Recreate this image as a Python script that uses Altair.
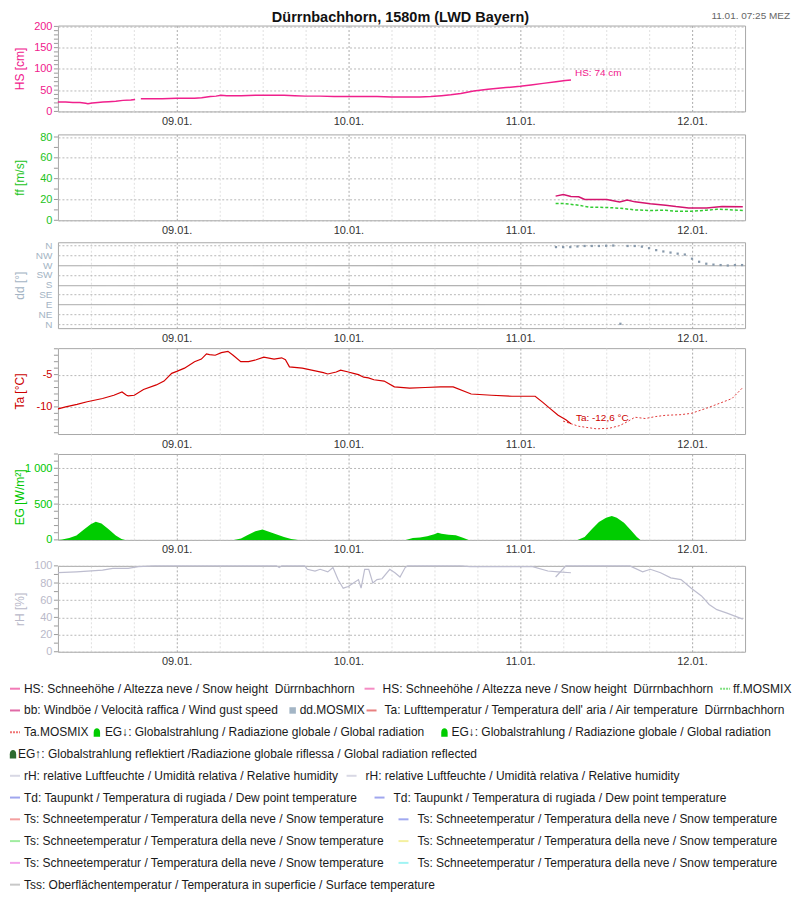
import altair as alt
import pandas as pd

# ---------------------------------------------------------------- data
BASE = pd.Timestamp("2025-01-08 00:00:00")   # hours below are counted from 08.01. 00:00

# Snow height HS [cm] (two measured segments)
hs_hours = [7.4, 8.5, 9.5, 10.5, 11.3, 11.6, 12.2, 13.0, 13.7, 14.5, 15.5, 16.5, 17.6, 18.2,
            19.0, 20.5, 22.0, 24.0, 25.5, 26.5, 27.5, 28.7, 29.5, 30.2, 31.0, 33.0, 35.0, 37.0,
            39.0, 40.5, 42.0, 44.0, 46.0, 48.0, 50.0, 52.0, 54.0, 56.0, 58.0, 59.5, 61.0, 62.3,
            63.7, 65.5, 67.5, 70.0, 72.0, 73.5, 75.2, 77.0, 78.3, 79.1]
hs_values = [22, 22, 21, 21, 19, 18, 20, 21, 22, 23, 24, 26, 27, 28,
             30, 30, 30, 31, 31, 31, 32, 35, 36, 38, 37, 37, 38, 38,
             38, 37, 36, 36, 35, 35, 35, 35, 34, 34, 34, 35, 37, 39,
             42, 48, 52, 56, 59, 62, 66, 70, 73, 74]
hs_segment = [1] * 14 + [2] * 38

# Wind gust bb and ff.MOSMIX [m/s]
bb_hours = [76.95, 78.02, 79.09, 80.17, 81.02, 84.1, 85.89, 86.96, 88.03, 90.18, 92.32, 93.76,
            95.54, 98.05, 100.2, 103.1]
bb_values = [23.2, 24.8, 22.9, 22.6, 20.0, 20.0, 17.7, 19.4, 17.7, 15.8, 14.5, 13.2,
             11.9, 11.9, 13.2, 12.9]
ffm_hours = [76.95, 78.02, 80.17, 81.6, 84.1, 85.89, 88.03, 90.18, 92.32, 93.76, 95.9, 98.05,
             99.48, 100.9, 103.1]
ffm_values = [16.1, 16.1, 14.5, 12.6, 12.3, 11.6, 10.0, 9.4, 9.7, 8.7, 8.7, 9.7,
              10.6, 10.3, 9.4]

# Wind direction dd.MOSMIX [deg]
dd_hours = list(range(77, 104))
dd_values = [352, 352, 352, 355, 357, 357, 357, 358, 359, 2, 357, 357, 354, 347, 338, 332,
             327, 322, 318, 299, 285, 276, 272, 270, 268, 270, 270]

# Air temperature Ta [°C] measured and Ta.MOSMIX
ta_hours = [7.43, 8.5, 10.08, 11.5, 13.65, 15.23, 16.37, 17.0, 17.23, 18.09, 19.37, 21.16, 22.24,
            23.31, 24.02, 25.1, 26.5, 27.46, 28.17, 28.6, 29.39, 30.25, 31.17, 31.89, 32.96,
            34.04, 35.11, 36.18, 37.61, 38.68, 39.2, 39.76, 41.55, 43.69, 44.5, 45.12, 46.3,
            46.91, 48.0, 48.7, 49.4, 50.13, 50.8, 51.56, 52.99, 54.42, 56.56, 58.71, 60.86,
            62.64, 65.15, 68.0, 70.87, 74.09, 75.16, 76.23, 77.3, 78.38, 79.09]
ta_values = [-10.3, -10.0, -9.6, -9.2, -8.7, -8.2, -7.7, -8.2, -8.3, -8.2, -7.3, -6.6, -6.0,
             -4.8, -4.5, -4.0, -3.0, -2.6, -1.8, -1.9, -2.0, -1.6, -1.4, -2.0, -3.0,
             -3.0, -2.7, -2.3, -2.6, -2.4, -2.7, -3.8, -4.0, -4.5, -4.7, -4.9, -4.6,
             -4.3, -4.6, -4.8, -5.0, -5.4, -5.5, -5.8, -6.0, -6.9, -7.1, -7.0, -6.9,
             -6.9, -8.0, -8.2, -8.35, -8.35, -9.3, -10.3, -11.3, -12.0, -12.6]
tam_hours = [78.0, 80.17, 82.67, 84.46, 85.89, 86.96, 88.03, 89.46, 90.9, 92.32, 94.47, 95.9,
             98.05, 100.2, 101.6, 103.1]
tam_values = [-12.2, -13.0, -13.4, -13.3, -12.9, -12.3, -11.6, -11.8, -11.5, -11.3, -11.2, -11.0,
              -10.2, -9.3, -8.7, -7.0]

# Global radiation EG [W/m²]
eg_hours = [7.4, 8.0, 9.0, 10.0, 11.0, 12.0, 12.7, 13.5, 14.5, 15.5, 16.3, 16.8,
            32.0, 33.0, 34.0, 35.0, 36.0, 37.0, 38.0, 39.0, 40.0, 41.0,
            56.0, 57.0, 58.0, 59.0, 60.0, 60.5, 61.0, 62.0, 63.0, 64.0, 64.8,
            80.0, 81.0, 82.0, 83.0, 84.0, 84.8, 85.5, 86.5, 87.5, 88.3, 88.8, 103.1]
eg_values = [0, 5, 25, 60, 140, 220, 255, 230, 150, 60, 12, 0,
             0, 20, 70, 120, 145, 110, 75, 40, 12, 0,
             0, 25, 35, 50, 80, 100, 85, 70, 65, 30, 0,
             0, 40, 150, 250, 310, 335, 310, 240, 130, 40, 0, 0]

# Relative humidity rH [%] measured and forecast
rh_hours = [7.43, 10.0, 13.65, 15.08, 17.23, 18.66, 20.8, 37.97, 38.33, 38.68, 41.9, 42.26,
            43.33, 44.05, 45.12, 45.84, 46.55, 47.27, 47.98, 48.7, 49.41, 49.77, 50.27, 50.84,
            51.41, 51.99, 52.7, 53.78, 54.5, 55.21, 55.93, 56.29, 63.72, 65.0, 73.73, 75.87,
            77.3, 79.09]
rh_values = [92, 93, 95, 97, 97, 99, 100, 100, 98, 100, 100, 96,
             94, 96, 93, 98, 84, 74, 76, 80, 84, 74, 96, 96,
             80, 84, 85, 96, 92, 87, 98, 100, 100, 99, 99, 94,
             93, 92]
rhm_hours = [76.95, 78.38, 87.32, 89.11, 90.18, 91.61, 93.04, 94.47, 95.9, 97.33, 98.4, 99.48,
             100.9, 103.1]
rhm_values = [87, 100, 100, 93, 96, 92, 86, 84, 74, 65, 55, 49, 45, 38]

# Legend
leg_labels = [
    "HS: Schneehöhe / Altezza neve / Snow height\u00a0 Dürrnbachhorn",
    "HS: Schneehöhe / Altezza neve / Snow height\u00a0 Dürrnbachhorn",
    "ff.MOSMIX",
    "bb: Windböe / Velocità raffica / Wind gust speed",
    "dd.MOSMIX",
    "Ta: Lufttemperatur / Temperatura dell' aria / Air temperature\u00a0 Dürrnbachhorn",
    "Ta.MOSMIX",
    "EG↓: Globalstrahlung / Radiazione globale / Global radiation",
    "EG↓: Globalstrahlung / Radiazione globale / Global radiation",
    "EG↑: Globalstrahlung reflektiert /Radiazione globale riflessa / Global radiation reflected",
    "rH: relative Luftfeuchte / Umidità relativa / Relative humidity",
    "rH: relative Luftfeuchte / Umidità relativa / Relative humidity",
    "Td: Taupunkt / Temperatura di rugiada / Dew point temperature",
    "Td: Taupunkt / Temperatura di rugiada / Dew point temperature",
    "Ts: Schneetemperatur / Temperatura della neve / Snow temperature",
    "Ts: Schneetemperatur / Temperatura della neve / Snow temperature",
    "Ts: Schneetemperatur / Temperatura della neve / Snow temperature",
    "Ts: Schneetemperatur / Temperatura della neve / Snow temperature",
    "Ts: Schneetemperatur / Temperatura della neve / Snow temperature",
    "Ts: Schneetemperatur / Temperatura della neve / Snow temperature",
    "Tss: Oberflächentemperatur / Temperatura in superficie / Surface temperature",
]
leg_colors = ["#f27ab6", "#f58cc4", "#7ee07e", "#e06aa6", "#a3b5c5", "#e88080", "#f07474",
              "#00cc00", "#00cc00", "#2e6b30", "#d8d8e4", "#d8d8e4", "#a0a6ee", "#a0a6ee",
              "#f4a0a0", "#a0a8f0", "#a0eca0", "#f4f0a0", "#f4a4ec", "#a0f4f4", "#c8c8c8"]
leg_kinds = ["line", "line", "dash", "line", "square", "line", "dash", "bump", "bump", "bump",
             "line", "line", "line", "line", "line", "line", "line", "line", "line", "line", "line"]
leg_rows = [0, 0, 0, 1, 1, 1, 2, 2, 2, 3, 4, 4, 5, 5, 6, 6, 7, 7, 8, 8, 9]
# legend layout (page pixels): symbol position and text start
leg_sym_x = [9, 364, 720, 9, 292, 366, 9, 96, 444, 12, 9, 346, 9, 374, 9, 398, 9, 398, 9, 398, 9]
leg_text_x = [23, 382, 733, 23, 299, 384, 23, 104, 451, 17, 23, 365, 23, 393, 23, 417, 23, 417, 23, 417, 23]

# ---------------------------------------------------------------- helpers
FONT = "Liberation Sans"
W, H = 688, 86
PLOT_X = 57                # page x of plot areas
LEG_TOP = 673              # page y of the legend chart origin


def iso(hours):
    return [(BASE + pd.Timedelta(hours=float(h))).strftime("%Y-%m-%dT%H:%M:%S") for h in hours]


def dt(day, hour, minute=0):
    return alt.DateTime(year=2025, month=1, date=day, hours=hour, minutes=minute)


X_DOMAIN = [dt(8, 7, 25), dt(12, 7, 25)]
GRID_TIMES = [dt(d, h) for d in range(8, 13) for h in (0, 6, 12, 18)
              if 8 * 24 + 7.42 <= d * 24 + h <= 12 * 24 + 7.42]

x_axis = alt.Axis(
    values=GRID_TIMES,
    labelExpr="hours(datum.value) == 0 ? timeFormat(datum.value, '%d.%m.') : ''",
    grid=True,
    gridColor={"condition": {"test": "hours(datum.value) == 0", "value": "#ababab"}, "value": "#e0e0e0"},
    gridDash=[2, 2],
    ticks=False, domain=False,
    labelColor="#333333", labelFontSize=11, labelPadding=4,
    labelOverlap=False, labelFlush=False, title=None,
)
X = alt.X("t:T", scale=alt.Scale(domain=X_DOMAIN, nice=False), axis=x_axis)


def y_enc(domain, values, title, color, label_expr="'' + datum.value", grid_dash=None, grid_color=None,
          label_size=11):
    return alt.Y(
        "v:Q",
        scale=alt.Scale(domain=domain, nice=False, zero=False),
        axis=alt.Axis(
            values=values, title=title, titleColor=color, labelColor=color,
            ticks=False, domain=False,
            gridColor=grid_color if grid_color is not None else "#b8b8b8",
            gridDash=grid_dash if grid_dash is not None else [2, 2],
            labelPadding=6, labelFontSize=label_size, labelExpr=label_expr,
            labelOverlap=False, labelFlush=False,
            titleFontSize=12, titleFontWeight="normal", titleX=-31,
        ),
    )


def df(hours, values, **extra):
    d = pd.DataFrame({"t": iso(hours), "v": values})
    for k, v in extra.items():
        d[k] = v
    return d


def minor_ticks(Y, tick_values):
    return alt.Chart(pd.DataFrame({"v": tick_values})).mark_rule(color="#9a9a9a", strokeWidth=1).encode(
        x=alt.value(-4), x2=alt.value(0), y=Y)


dummy = pd.DataFrame({"a": [0]})

# ---------------------------------------------------------------- panels
HS_C = "#f0208c"
Y_hs = y_enc([0, 202], [0, 50, 100, 150, 200], "HS [cm]", HS_C)
hs_df = df(hs_hours, hs_values, seg=hs_segment)
hs = alt.layer(
    minor_ticks(Y_hs, list(range(0, 201, 10))),
    alt.Chart(hs_df).mark_line(color=HS_C, strokeWidth=1.5).encode(x=X, y=Y_hs, detail="seg:N"),
    alt.Chart(hs_df.tail(1)).mark_text(text="HS: 74 cm", align="left", baseline="middle", dx=4, dy=-7,
                                       fontSize=10, color=HS_C).encode(x=X, y=Y_hs),
    alt.Chart(dummy).mark_text(text="Dürrnbachhorn, 1580m (LWD Bayern)", fontSize=14.5, fontWeight="bold",
                               align="center", baseline="middle", color="#111111").encode(
        x=alt.value(400 - PLOT_X), y=alt.value(-8)),
    alt.Chart(dummy).mark_text(text="11.01. 07:25 MEZ", fontSize=10, align="right", baseline="middle",
                               color="#666666").encode(x=alt.value(790 - PLOT_X), y=alt.value(-10)),
).properties(width=W, height=H)

FF_C = "#22c322"
Y_ff = y_enc([0, 82.5], [0, 20, 40, 60, 80], "ff [m/s]", FF_C)
ff = alt.layer(
    minor_ticks(Y_ff, list(range(0, 81, 10))),
    alt.Chart(df(bb_hours, bb_values)).mark_line(color="#d4146e", strokeWidth=1.5).encode(x=X, y=Y_ff),
    alt.Chart(df(ffm_hours, ffm_values)).mark_line(color="#33cc33", strokeWidth=1.5,
                                                   strokeDash=[3, 2]).encode(x=X, y=Y_ff),
).properties(width=W, height=H)

DD_C = "#a4b4c4"
MAIN_DIR = "datum.value == 90 || datum.value == 180 || datum.value == 270"
Y_dd = y_enc([-18, 374], [0, 45, 90, 135, 180, 225, 270, 315, 360], "dd [°]", DD_C,
             label_expr="['N','NE','E','SE','S','SW','W','NW','N'][round(datum.value / 45)]",
             grid_dash={"condition": {"test": MAIN_DIR, "value": [1, 0]}, "value": [2, 2]},
             grid_color={"condition": {"test": MAIN_DIR, "value": "#9a9a9a"}, "value": "#b8b8b8"},
             label_size=10)
dd = alt.layer(
    alt.Chart(df(dd_hours, dd_values)).mark_square(size=5, color="#8799ab", opacity=1).encode(x=X, y=Y_dd),
).properties(width=W, height=H)

TA_C = "#cc0000"
Y_ta = y_enc([-14.2, -0.9], [-10, -5], "Ta [°C]", TA_C)
ta_df = df(ta_hours, ta_values)
ta = alt.layer(
    minor_ticks(Y_ta, list(range(-14, 0))),
    alt.Chart(df(tam_hours, tam_values)).mark_line(color="#e03a3a", strokeWidth=1,
                                                   strokeDash=[2, 2]).encode(x=X, y=Y_ta),
    alt.Chart(ta_df).mark_line(color="#d40000", strokeWidth=1.2).encode(x=X, y=Y_ta),
    alt.Chart(ta_df.tail(1)).mark_text(text="Ta: -12,6 °C", align="left", baseline="middle", dx=5, dy=-6,
                                       fontSize=10, color=TA_C).encode(x=X, y=Y_ta),
).properties(width=W, height=H)

EG_C = "#00c800"
Y_eg = y_enc([0, 1200], [0, 500, 1000], "EG [W/m²]", EG_C,
             label_expr="replace(format(datum.value, ','), ',', ' ')")
eg = alt.layer(
    minor_ticks(Y_eg, list(range(0, 1201, 100))),
    alt.Chart(df(eg_hours, eg_values)).mark_area(color="#00cc00", opacity=1).encode(x=X, y=Y_eg),
).properties(width=W, height=H)

RH_C = "#b9b9c9"
Y_rh = y_enc([0, 100], [0, 20, 40, 60, 80, 100], "rH [%]", RH_C)
rh = alt.layer(
    minor_ticks(Y_rh, list(range(0, 101, 10))),
    alt.Chart(df(rh_hours, rh_values)).mark_line(color="#bdbdcf", strokeWidth=1.2).encode(x=X, y=Y_rh),
    alt.Chart(df(rhm_hours, rhm_values)).mark_line(color="#bdbdcf", strokeWidth=1.2).encode(x=X, y=Y_rh),
).properties(width=W, height=H)

# ---------------------------------------------------------------- legend
leg = pd.DataFrame({
    "label": leg_labels, "color": leg_colors, "kind": leg_kinds, "row": leg_rows,
})
leg["sx"] = [x - PLOT_X for x in leg_sym_x]
leg["sx2"] = leg["sx"] + 10
leg["tx"] = [x - PLOT_X for x in leg_text_x]
leg["ly"] = 690 + leg["row"] * 21.8 - LEG_TOP

px = dict(scale=None, axis=None)
col = alt.Color("color:N", scale=None, legend=None)
BUMP = "M-0.8,1.15 L-0.8,0.05 C-0.8,-1.35 0.8,-1.35 0.8,0.05 L0.8,1.15 Z"

legend = alt.layer(
    alt.Chart(leg).transform_filter("datum.kind == 'line'").mark_rule(strokeWidth=2).encode(
        x=alt.X("sx:Q", **px), x2="sx2:Q", y=alt.Y("ly:Q", **px), color=col),
    alt.Chart(leg).transform_filter("datum.kind == 'dash'").mark_rule(strokeWidth=2, strokeDash=[2, 1]).encode(
        x=alt.X("sx:Q", **px), x2="sx2:Q", y=alt.Y("ly:Q", **px), color=col),
    alt.Chart(leg).transform_filter("datum.kind == 'square'").mark_square(size=42, opacity=1).encode(
        x=alt.X("sx:Q", **px), y=alt.Y("ly:Q", **px), color=col),
    alt.Chart(leg).transform_filter("datum.kind == 'bump'").mark_point(
        shape=BUMP, size=64, filled=True, opacity=1, strokeWidth=0).encode(
        x=alt.X("sx:Q", **px), y=alt.Y("ly:Q", **px), color=col),
    alt.Chart(leg).mark_text(align="left", baseline="middle", fontSize=12, color="#1a1a1a").encode(
        x=alt.X("tx:Q", **px), y=alt.Y("ly:Q", **px), text="label:N"),
).properties(width=720, height=200, view=alt.ViewConfig(stroke="transparent"))

chart = alt.vconcat(hs, ff, dd, ta, eg, rh, legend, spacing=3).properties(
    padding={"left": 0, "top": 0, "right": 0, "bottom": 0},
    background="white",
).configure_view(stroke="#a8a8a8", strokeWidth=1).configure_axis(
    labelFont=FONT, titleFont=FONT
).configure_text(font=FONT)

chart.save("out.html", embed_options={"renderer": "svg", "actions": False})
